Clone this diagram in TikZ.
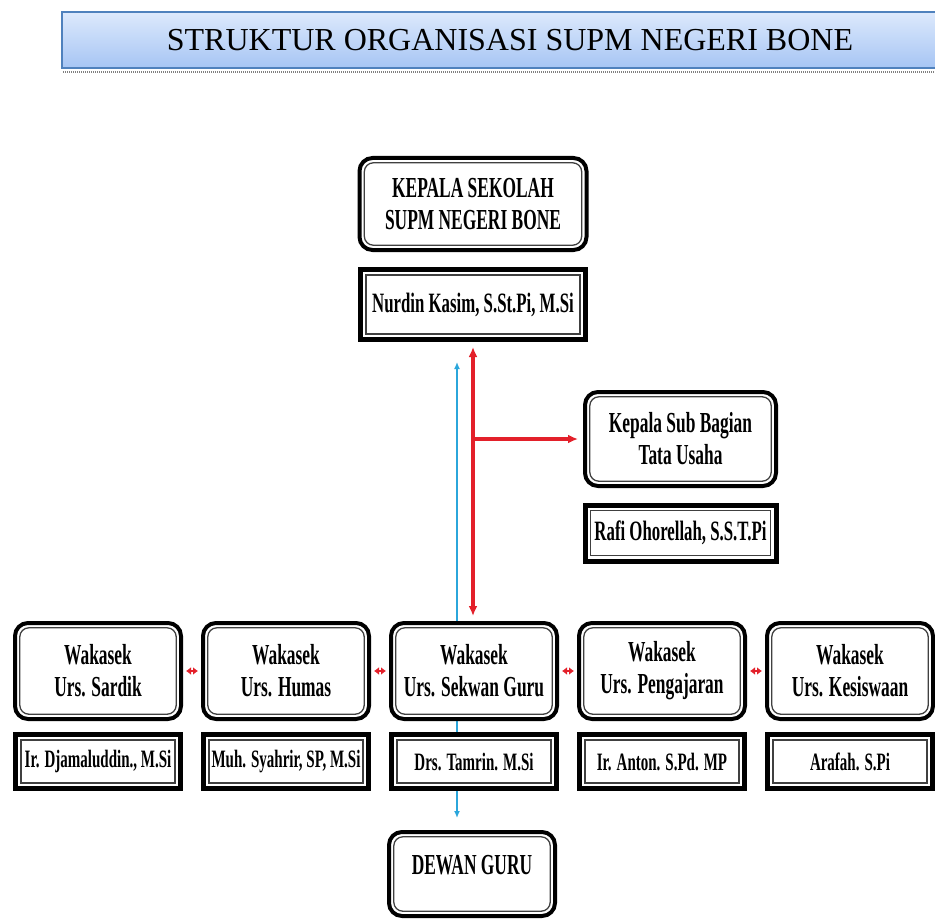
\documentclass[tikz,border=0pt]{standalone}
\usepackage{fontspec}
\setmainfont{Liberation Serif}
\newfontfamily\boxfont[FakeStretch=0.6]{Liberation Serif}
\usepackage{xcolor}
\usepackage{tikz}
\usetikzlibrary{arrows.meta,backgrounds}

\definecolor{bannerline}{HTML}{4F81BD}
\definecolor{bannertop}{HTML}{DDE9FC}
\definecolor{bannerbot}{HTML}{A6C5F4}
\definecolor{linkred}{HTML}{E3202A}
\definecolor{linkblue}{HTML}{2BA6DB}

\begin{document}
\begin{tikzpicture}[x=1pt, y=1pt,
	banner/.style={draw=bannerline, line width=1.2pt, top color=bannertop, bottom color=bannerbot, minimum width=896pt, minimum height=56pt, inner sep=0pt, font=\fontsize{32}{38}\selectfont},
	rbox/.style={draw, line width=4pt, rounded corners=13pt, fill=white, align=center, inner sep=0pt, minimum width=166pt, minimum height=96pt, font=\boxfont\bfseries\fontsize{29}{32}\selectfont,
		path picture={\draw[line width=1.3pt, rounded corners=9pt, black!75] ([shift={(4.8pt,4.8pt)}]path picture bounding box.south west) rectangle ([shift={(-4.8pt,-4.8pt)}]path picture bounding box.north east);}},
	nbox/.style={draw, line width=5pt, fill=white, align=center, inner sep=0pt, minimum width=165pt, minimum height=54pt, font=\boxfont\bfseries\fontsize{25}{29}\selectfont,
		path picture={\draw[line width=1.3pt, sharp corners, black!75] ([shift={(5.5pt,5.5pt)}]path picture bounding box.south west) rectangle ([shift={(-5.5pt,-5.5pt)}]path picture bounding box.north east);}},
	redlink/.style={linkred, line width=3.2pt, shorten >=5pt},
	bluelink/.style={linkblue, line width=1.8pt},
	twoway/.style={linkred, line width=2.6pt, {Latex[length=5pt,width=8pt]}-{Latex[length=5pt,width=8pt]}, shorten <=3pt, shorten >=3pt}
	]
			\useasboundingbox (0,0) rectangle (935,-923);
			
			\node[banner] (title) at (510,-40) {STRUKTUR ORGANISASI SUPM NEGERI BONE};
			\draw[gray, line width=2pt, dash pattern=on 1pt off 1pt] ([xshift=2pt,yshift=-3pt]title.south west) -- ([yshift=-3pt]title.south east);
			
			\node[rbox, minimum width=227pt, minimum height=92pt] (kepala) at (473,-204) {KEPALA SEKOLAH\\SUPM NEGERI BONE};
			\node[nbox, below of=kepala, node distance=100.5pt, minimum width=225pt, minimum height=70pt, font=\boxfont\bfseries\fontsize{28}{32}\selectfont] (nurdin) {Nurdin Kasim, S.St.Pi, M.Si};
			
			\node[rbox, right of=kepala, node distance=207.5pt, yshift=-235pt, minimum width=191pt, minimum height=94pt] (tatausaha) {Kepala Sub Bagian\\Tata Usaha};
			\node[nbox, below of=tatausaha, node distance=94pt, minimum width=191pt, minimum height=56pt, font=\boxfont\bfseries\fontsize{28}{32}\selectfont] (rafi) {Rafi Ohorellah, S.S.T.Pi};
			
			% wakasek
			\node[rbox] (sardik) at (98,-671) {Wakasek\\Urs. Sardik};
			\node[rbox, right of=sardik, node distance=188pt] (humas) {Wakasek\\Urs. Humas};
			\node[rbox, right of=humas, node distance=188pt] (sekwan) {Wakasek\\Urs. Sekwan Guru};
			\node[rbox, right of=sekwan, node distance=188pt] (pengajaran) {Wakasek\\Urs. Pengajaran};
			\node[rbox, right of=pengajaran, node distance=188pt] (kesiswaan) {Wakasek\\Urs. Kesiswaan};
			
			\node[nbox, below of=sardik, node distance=90.5pt] (djamal) {Ir. Djamaluddin., M.Si};
			\node[nbox, below of=humas, node distance=90.5pt] (syahrir) {Muh. Syahrir, SP, M.Si};
			\node[nbox, below of=sekwan, node distance=90.5pt] (tamrin) {Drs. Tamrin. M.Si};
			\node[nbox, below of=pengajaran, node distance=90.5pt] (anton) {Ir. Anton. S.Pd. MP};
			\node[nbox, below of=kesiswaan, node distance=90.5pt] (arafah) {Arafah. S.Pi};
			
			\node[rbox, below of=tamrin, node distance=112.5pt, xshift=-2pt, minimum height=84pt, text depth=18pt] (dewan) {DEWAN GURU};
			
			\coordinate (btop) at ([xshift=-16pt,yshift=-20pt]nurdin.south);
			\begin{pgfonlayer}{background}
			\draw[bluelink, {Latex[length=7pt,width=6pt]}-{Latex[length=7pt,width=6pt]}, shorten >=12pt] (btop) -- (btop |- dewan.north);
			\end{pgfonlayer}
			
			\draw[redlink, {Latex[length=10pt,width=9pt]}-{Latex[length=10pt,width=9pt]}, shorten <=5pt] (nurdin.south) -- (nurdin.south |- sekwan.north);
			\draw[redlink, -{Latex[length=10pt,width=9pt]}] (nurdin.south |- tatausaha.west) -- (tatausaha.west);
			
			\draw[twoway] (sardik.east) -- (humas.west);
			\draw[twoway] (humas.east) -- (sekwan.west);
			\draw[twoway] (sekwan.east) -- (pengajaran.west);
			\draw[twoway] (pengajaran.east) -- (kesiswaan.west);
			
\end{tikzpicture}
\end{document}
